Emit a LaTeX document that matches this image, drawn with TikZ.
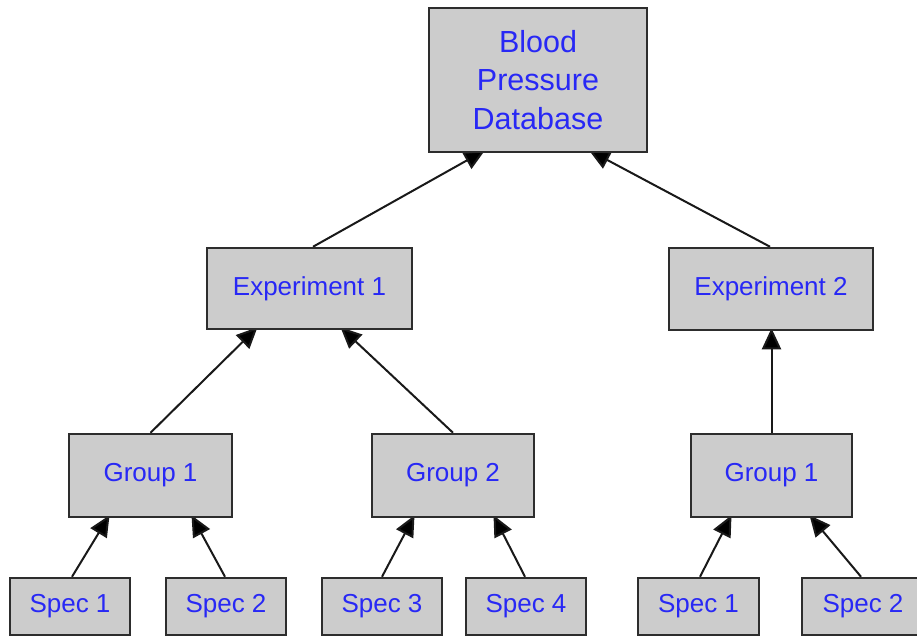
\documentclass[tikz,border=0pt]{standalone}
\usepackage{fontspec}
\setmainfont{Liberation Sans}
\usetikzlibrary{arrows.meta,backgrounds}
\definecolor{boxfill}{RGB}{204,204,204}
\definecolor{boxline}{RGB}{45,45,45}
\definecolor{txtblue}{RGB}{40,40,245}
\begin{document}
\begin{tikzpicture}[x=1pt,y=-1pt,
  box/.style={draw=boxline,line width=2.5pt,fill=boxfill,text=txtblue,inner sep=0pt,
    font=\fontsize{26}{30}\selectfont},
  conn/.style={draw=black!90,line width=2pt,-{Triangle[length=21pt,width=19pt,fill=black]}}]
\useasboundingbox (0,0) rectangle (917,637);
\node[box,minimum width=218pt,minimum height=144pt,align=center,
  font=\fontsize{30.5}{38.5}\selectfont] (top) at (538,80) {Blood\\Pressure\\Database};
\node[box,minimum width=205pt,minimum height=81pt] (e1) at (309.5,288.5) {Experiment 1};
\node[box,minimum width=204pt,minimum height=82pt] (e2) at (771,289) {Experiment 2};
\node[box,minimum width=163pt,minimum height=83pt] (g1) at (150.5,475.5) {Group 1};
\node[box,minimum width=162pt,minimum height=83pt] (g2) at (453,475.5) {Group 2};
\node[box,minimum width=161pt,minimum height=83pt] (g3) at (771.5,475.5) {Group 1};
\node[box,minimum width=120pt,minimum height=57pt] (s1) at (70,606.5) {Spec 1};
\node[box,minimum width=120pt,minimum height=57pt] (s2) at (226,606.5) {Spec 2};
\node[box,minimum width=120pt,minimum height=57pt] (s3) at (382,606.5) {Spec 3};
\node[box,minimum width=120pt,minimum height=57pt] (s4) at (526,606.5) {Spec 4};
\node[box,minimum width=121pt,minimum height=57pt] (s5) at (698.5,606.5) {Spec 1};
\node[box,minimum width=122pt,minimum height=57pt] (s6) at (863,606.5) {Spec 2};
\begin{scope}[on background layer]
\draw[conn] ([xshift=3.5pt]e1.north) -- ([xshift=-53pt,yshift=3pt]top.south);
\draw[conn] ([xshift=-1pt]e2.north) -- ([xshift=51pt,yshift=3pt]top.south);
\draw[conn] (g1.north) -- ([xshift=-52pt,yshift=3pt]e1.south);
\draw[conn] (g2.north) -- ([xshift=31pt,yshift=3pt]e1.south);
\draw[conn] (g3.north) -- ([xshift=0.5pt,yshift=3pt]e2.south);
\draw[conn] ([xshift=2pt]s1.north) -- ([xshift=-41pt,yshift=3pt]g1.south);
\draw[conn] ([xshift=-1pt]s2.north) -- ([xshift=41pt,yshift=3pt]g1.south);
\draw[conn] (s3.north) -- ([xshift=-38.5pt,yshift=3pt]g2.south);
\draw[conn] ([xshift=-1pt]s4.north) -- ([xshift=40.5pt,yshift=3pt]g2.south);
\draw[conn] ([xshift=1.5pt]s5.north) -- ([xshift=-40pt,yshift=3pt]g3.south);
\draw[conn] ([xshift=-2pt]s6.north) -- ([xshift=38pt,yshift=3pt]g3.south);
\end{scope}
\end{tikzpicture}
\end{document}
